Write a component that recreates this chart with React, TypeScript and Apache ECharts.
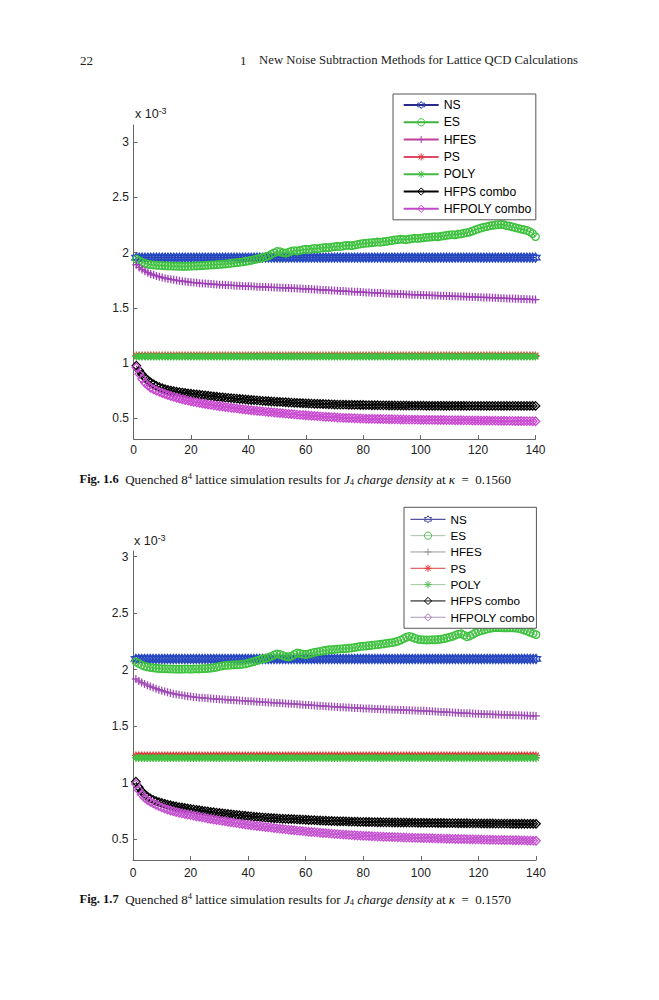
import React, { useEffect, useRef } from "react";
import * as echarts from "echarts";

// ---------- data ----------
const seriesNames = ["NS", "ES", "HFES", "PS", "POLY", "HFPS combo", "HFPOLY combo"];
const yTickValues = [0.5, 1, 1.5, 2, 2.5, 3];

// Fig. 1.6 (kappa = 0.1560), x = 1..140, values x 10^-3
const ns1 = [
  1.955, 1.955, 1.955, 1.955, 1.955, 1.955, 1.955, 1.955, 1.955, 1.955,
  1.955, 1.955, 1.955, 1.955, 1.955, 1.955, 1.955, 1.955, 1.955, 1.955,
  1.955, 1.955, 1.955, 1.955, 1.955, 1.955, 1.955, 1.955, 1.955, 1.955,
  1.955, 1.955, 1.955, 1.955, 1.955, 1.955, 1.955, 1.955, 1.955, 1.955,
  1.955, 1.955, 1.955, 1.955, 1.955, 1.955, 1.955, 1.955, 1.955, 1.955,
  1.955, 1.955, 1.955, 1.955, 1.955, 1.955, 1.955, 1.955, 1.955, 1.955,
  1.955, 1.955, 1.955, 1.955, 1.955, 1.955, 1.955, 1.955, 1.955, 1.955,
  1.955, 1.955, 1.955, 1.955, 1.955, 1.955, 1.955, 1.955, 1.955, 1.955,
  1.955, 1.955, 1.955, 1.955, 1.955, 1.955, 1.955, 1.955, 1.955, 1.955,
  1.955, 1.955, 1.955, 1.955, 1.955, 1.955, 1.955, 1.955, 1.955, 1.955,
  1.955, 1.955, 1.955, 1.955, 1.955, 1.955, 1.955, 1.955, 1.955, 1.955,
  1.955, 1.955, 1.955, 1.955, 1.955, 1.955, 1.955, 1.955, 1.955, 1.955,
  1.955, 1.955, 1.955, 1.955, 1.955, 1.955, 1.955, 1.955, 1.955, 1.955,
  1.955, 1.955, 1.955, 1.955, 1.955, 1.955, 1.955, 1.955, 1.955, 1.955,
];
const es1 = [
  1.940, 1.925, 1.912, 1.902, 1.895, 1.890, 1.888, 1.885, 1.884, 1.883,
  1.880, 1.879, 1.878, 1.877, 1.876, 1.876, 1.875, 1.875, 1.876, 1.877,
  1.878, 1.879, 1.881, 1.882, 1.884, 1.886, 1.888, 1.889, 1.891, 1.893,
  1.895, 1.897, 1.900, 1.903, 1.906, 1.909, 1.912, 1.916, 1.920, 1.925,
  1.930, 1.936, 1.942, 1.948, 1.955, 1.962, 1.970, 1.985, 1.998, 2.010,
  2.008, 2.000, 1.995, 2.003, 2.012, 2.018, 2.015, 2.020, 2.026, 2.030,
  2.028, 2.033, 2.038, 2.035, 2.040, 2.044, 2.047, 2.045, 2.050, 2.054,
  2.057, 2.055, 2.060, 2.064, 2.066, 2.063, 2.068, 2.073, 2.078, 2.082,
  2.085, 2.087, 2.090, 2.093, 2.096, 2.094, 2.098, 2.102, 2.106, 2.110,
  2.114, 2.118, 2.121, 2.120, 2.117, 2.122, 2.127, 2.130, 2.128, 2.131,
  2.135, 2.138, 2.140, 2.143, 2.145, 2.143, 2.148, 2.152, 2.156, 2.160,
  2.163, 2.161, 2.166, 2.170, 2.175, 2.180, 2.186, 2.195, 2.205, 2.215,
  2.223, 2.230, 2.236, 2.242, 2.247, 2.250, 2.253, 2.255, 2.252, 2.245,
  2.240, 2.233, 2.226, 2.220, 2.213, 2.207, 2.200, 2.190, 2.172, 2.145,
];
const hfes1 = [
  1.890, 1.866, 1.847, 1.832, 1.818, 1.806, 1.797, 1.789, 1.781, 1.774,
  1.768, 1.763, 1.758, 1.753, 1.749, 1.745, 1.741, 1.738, 1.734, 1.731,
  1.728, 1.726, 1.723, 1.721, 1.719, 1.717, 1.715, 1.713, 1.711, 1.709,
  1.708, 1.706, 1.705, 1.703, 1.702, 1.700, 1.699, 1.697, 1.696, 1.695,
  1.694, 1.692, 1.691, 1.690, 1.689, 1.688, 1.686, 1.685, 1.684, 1.683,
  1.682, 1.681, 1.680, 1.679, 1.677, 1.676, 1.675, 1.674, 1.672, 1.671,
  1.669, 1.668, 1.666, 1.665, 1.663, 1.662, 1.660, 1.659, 1.657, 1.656,
  1.654, 1.653, 1.651, 1.650, 1.648, 1.647, 1.645, 1.644, 1.642, 1.641,
  1.639, 1.638, 1.637, 1.635, 1.634, 1.633, 1.631, 1.630, 1.629, 1.627,
  1.626, 1.625, 1.624, 1.623, 1.621, 1.620, 1.619, 1.618, 1.617, 1.616,
  1.615, 1.614, 1.613, 1.612, 1.611, 1.610, 1.609, 1.608, 1.607, 1.606,
  1.605, 1.604, 1.603, 1.602, 1.601, 1.600, 1.599, 1.598, 1.597, 1.596,
  1.595, 1.594, 1.593, 1.592, 1.591, 1.590, 1.588, 1.587, 1.586, 1.585,
  1.584, 1.583, 1.582, 1.581, 1.580, 1.579, 1.577, 1.576, 1.575, 1.574,
];
const ps1 = [
  1.066, 1.066, 1.066, 1.066, 1.066, 1.066, 1.066, 1.066, 1.066, 1.066,
  1.066, 1.066, 1.066, 1.066, 1.066, 1.066, 1.066, 1.066, 1.066, 1.066,
  1.066, 1.066, 1.066, 1.066, 1.066, 1.066, 1.066, 1.066, 1.066, 1.066,
  1.066, 1.066, 1.066, 1.066, 1.066, 1.066, 1.066, 1.066, 1.066, 1.066,
  1.066, 1.066, 1.066, 1.066, 1.066, 1.066, 1.066, 1.066, 1.066, 1.066,
  1.066, 1.066, 1.066, 1.066, 1.066, 1.066, 1.066, 1.066, 1.066, 1.066,
  1.066, 1.066, 1.066, 1.066, 1.066, 1.066, 1.066, 1.066, 1.066, 1.066,
  1.066, 1.066, 1.066, 1.066, 1.066, 1.066, 1.066, 1.066, 1.066, 1.066,
  1.066, 1.066, 1.066, 1.066, 1.066, 1.066, 1.066, 1.066, 1.066, 1.066,
  1.066, 1.066, 1.066, 1.066, 1.066, 1.066, 1.066, 1.066, 1.066, 1.066,
  1.066, 1.066, 1.066, 1.066, 1.066, 1.066, 1.066, 1.066, 1.066, 1.066,
  1.066, 1.066, 1.066, 1.066, 1.066, 1.066, 1.066, 1.066, 1.066, 1.066,
  1.066, 1.066, 1.066, 1.066, 1.066, 1.066, 1.066, 1.066, 1.066, 1.066,
  1.066, 1.066, 1.066, 1.066, 1.066, 1.066, 1.066, 1.066, 1.066, 1.066,
];
const poly1 = [
  1.057, 1.057, 1.057, 1.057, 1.057, 1.057, 1.057, 1.057, 1.057, 1.057,
  1.057, 1.057, 1.057, 1.057, 1.057, 1.057, 1.057, 1.057, 1.057, 1.057,
  1.057, 1.057, 1.057, 1.057, 1.057, 1.057, 1.057, 1.057, 1.057, 1.057,
  1.057, 1.057, 1.057, 1.057, 1.057, 1.057, 1.057, 1.057, 1.057, 1.057,
  1.057, 1.057, 1.057, 1.057, 1.057, 1.057, 1.057, 1.057, 1.057, 1.057,
  1.057, 1.057, 1.057, 1.057, 1.057, 1.057, 1.057, 1.057, 1.057, 1.057,
  1.057, 1.057, 1.057, 1.057, 1.057, 1.057, 1.057, 1.057, 1.057, 1.057,
  1.057, 1.057, 1.057, 1.057, 1.057, 1.057, 1.057, 1.057, 1.057, 1.057,
  1.057, 1.057, 1.057, 1.057, 1.057, 1.057, 1.057, 1.057, 1.057, 1.057,
  1.057, 1.057, 1.057, 1.057, 1.057, 1.057, 1.057, 1.057, 1.057, 1.057,
  1.057, 1.057, 1.057, 1.057, 1.057, 1.057, 1.057, 1.057, 1.057, 1.057,
  1.057, 1.057, 1.057, 1.057, 1.057, 1.057, 1.057, 1.057, 1.057, 1.057,
  1.057, 1.057, 1.057, 1.057, 1.057, 1.057, 1.057, 1.057, 1.057, 1.057,
  1.057, 1.057, 1.057, 1.057, 1.057, 1.057, 1.057, 1.057, 1.057, 1.057,
];
const hfps1 = [
  0.975, 0.930, 0.895, 0.866, 0.842, 0.822, 0.806, 0.792, 0.780, 0.770,
  0.762, 0.755, 0.749, 0.744, 0.739, 0.735, 0.731, 0.727, 0.723, 0.720,
  0.717, 0.714, 0.711, 0.708, 0.705, 0.702, 0.699, 0.696, 0.693, 0.690,
  0.688, 0.685, 0.683, 0.680, 0.678, 0.676, 0.673, 0.671, 0.668, 0.666,
  0.664, 0.662, 0.660, 0.658, 0.656, 0.654, 0.652, 0.650, 0.649, 0.647,
  0.646, 0.644, 0.643, 0.641, 0.640, 0.638, 0.637, 0.636, 0.634, 0.633,
  0.632, 0.631, 0.630, 0.629, 0.628, 0.627, 0.626, 0.625, 0.624, 0.623,
  0.622, 0.622, 0.621, 0.621, 0.620, 0.620, 0.619, 0.619, 0.618, 0.618,
  0.617, 0.617, 0.616, 0.616, 0.616, 0.615, 0.615, 0.615, 0.614, 0.614,
  0.614, 0.613, 0.613, 0.613, 0.613, 0.612, 0.612, 0.612, 0.612, 0.612,
  0.612, 0.611, 0.611, 0.611, 0.611, 0.611, 0.611, 0.611, 0.611, 0.611,
  0.611, 0.611, 0.611, 0.611, 0.611, 0.610, 0.610, 0.610, 0.610, 0.610,
  0.610, 0.610, 0.610, 0.610, 0.610, 0.610, 0.610, 0.610, 0.610, 0.610,
  0.610, 0.610, 0.610, 0.610, 0.610, 0.610, 0.610, 0.610, 0.610, 0.610,
];
const hfpoly1 = [
  0.960, 0.900, 0.855, 0.820, 0.795, 0.775, 0.760, 0.748, 0.737, 0.727,
  0.718, 0.709, 0.700, 0.692, 0.684, 0.677, 0.670, 0.664, 0.658, 0.652,
  0.647, 0.642, 0.637, 0.632, 0.627, 0.623, 0.619, 0.615, 0.611, 0.607,
  0.604, 0.600, 0.597, 0.593, 0.590, 0.587, 0.583, 0.580, 0.577, 0.574,
  0.571, 0.568, 0.566, 0.563, 0.560, 0.558, 0.555, 0.553, 0.550, 0.548,
  0.545, 0.543, 0.540, 0.538, 0.536, 0.533, 0.531, 0.529, 0.527, 0.525,
  0.523, 0.521, 0.519, 0.517, 0.515, 0.513, 0.512, 0.510, 0.508, 0.507,
  0.505, 0.504, 0.502, 0.501, 0.500, 0.499, 0.498, 0.497, 0.496, 0.495,
  0.494, 0.493, 0.493, 0.492, 0.491, 0.491, 0.490, 0.490, 0.489, 0.489,
  0.488, 0.488, 0.487, 0.487, 0.486, 0.486, 0.485, 0.485, 0.485, 0.484,
  0.484, 0.484, 0.483, 0.483, 0.483, 0.482, 0.482, 0.482, 0.481, 0.481,
  0.481, 0.480, 0.480, 0.480, 0.479, 0.479, 0.479, 0.478, 0.478, 0.478,
  0.477, 0.477, 0.477, 0.476, 0.476, 0.476, 0.475, 0.475, 0.475, 0.474,
  0.474, 0.474, 0.473, 0.473, 0.473, 0.472, 0.472, 0.472, 0.471, 0.471,
];

// Fig. 1.7 (kappa = 0.1570)
const ns2 = [
  2.095, 2.095, 2.095, 2.095, 2.095, 2.095, 2.095, 2.095, 2.095, 2.095,
  2.095, 2.095, 2.095, 2.095, 2.095, 2.095, 2.095, 2.095, 2.095, 2.095,
  2.095, 2.095, 2.095, 2.095, 2.095, 2.095, 2.095, 2.095, 2.095, 2.095,
  2.095, 2.095, 2.095, 2.095, 2.095, 2.095, 2.095, 2.095, 2.095, 2.095,
  2.095, 2.095, 2.095, 2.095, 2.095, 2.095, 2.095, 2.095, 2.095, 2.095,
  2.095, 2.095, 2.095, 2.095, 2.095, 2.095, 2.095, 2.095, 2.095, 2.095,
  2.095, 2.095, 2.095, 2.095, 2.095, 2.095, 2.095, 2.095, 2.095, 2.095,
  2.095, 2.095, 2.095, 2.095, 2.095, 2.095, 2.095, 2.095, 2.095, 2.095,
  2.095, 2.095, 2.095, 2.095, 2.095, 2.095, 2.095, 2.095, 2.095, 2.095,
  2.095, 2.095, 2.095, 2.095, 2.095, 2.095, 2.095, 2.095, 2.095, 2.095,
  2.095, 2.095, 2.095, 2.095, 2.095, 2.095, 2.095, 2.095, 2.095, 2.095,
  2.095, 2.095, 2.095, 2.095, 2.095, 2.095, 2.095, 2.095, 2.095, 2.095,
  2.095, 2.095, 2.095, 2.095, 2.095, 2.095, 2.095, 2.095, 2.095, 2.095,
  2.095, 2.095, 2.095, 2.095, 2.095, 2.095, 2.095, 2.095, 2.095, 2.095,
];
const es2 = [
  2.070, 2.055, 2.042, 2.032, 2.025, 2.020, 2.016, 2.013, 2.011, 2.009,
  2.008, 2.007, 2.006, 2.006, 2.005, 2.005, 2.005, 2.006, 2.006, 2.005,
  2.006, 2.007, 2.006, 2.008, 2.010, 2.012, 2.014, 2.017, 2.022, 2.028,
  2.034, 2.038, 2.040, 2.042, 2.043, 2.044, 2.045, 2.048, 2.052, 2.058,
  2.065, 2.072, 2.080, 2.088, 2.096, 2.100, 2.108, 2.118, 2.130, 2.140,
  2.135, 2.126, 2.118, 2.114, 2.120, 2.135, 2.148, 2.145, 2.138, 2.134,
  2.140, 2.147, 2.153, 2.158, 2.162, 2.168, 2.172, 2.176, 2.178, 2.180,
  2.182, 2.184, 2.186, 2.188, 2.190, 2.192, 2.196, 2.202, 2.206, 2.208,
  2.210, 2.213, 2.216, 2.219, 2.222, 2.225, 2.229, 2.233, 2.236, 2.240,
  2.245, 2.252, 2.262, 2.275, 2.288, 2.295, 2.288, 2.277, 2.270, 2.266,
  2.264, 2.263, 2.264, 2.265, 2.265, 2.267, 2.270, 2.275, 2.281, 2.288,
  2.295, 2.305, 2.315, 2.318, 2.305, 2.292, 2.298, 2.312, 2.328, 2.338,
  2.345, 2.352, 2.360, 2.366, 2.370, 2.372, 2.372, 2.371, 2.370, 2.370,
  2.371, 2.370, 2.368, 2.364, 2.358, 2.350, 2.340, 2.330, 2.320, 2.310,
];
const hfes2 = [
  1.918, 1.900, 1.886, 1.874, 1.863, 1.852, 1.842, 1.832, 1.823, 1.815,
  1.807, 1.800, 1.794, 1.788, 1.783, 1.778, 1.774, 1.770, 1.766, 1.762,
  1.759, 1.756, 1.753, 1.751, 1.749, 1.747, 1.745, 1.743, 1.741, 1.739,
  1.737, 1.736, 1.734, 1.732, 1.731, 1.729, 1.727, 1.726, 1.724, 1.722,
  1.721, 1.719, 1.717, 1.716, 1.714, 1.712, 1.711, 1.709, 1.708, 1.706,
  1.705, 1.703, 1.701, 1.700, 1.698, 1.697, 1.695, 1.693, 1.691, 1.689,
  1.688, 1.686, 1.684, 1.682, 1.681, 1.679, 1.677, 1.675, 1.674, 1.672,
  1.671, 1.669, 1.668, 1.666, 1.665, 1.664, 1.662, 1.661, 1.659, 1.658,
  1.657, 1.656, 1.655, 1.653, 1.652, 1.651, 1.650, 1.649, 1.648, 1.647,
  1.646, 1.645, 1.644, 1.643, 1.642, 1.641, 1.640, 1.639, 1.638, 1.637,
  1.636, 1.634, 1.633, 1.632, 1.630, 1.629, 1.627, 1.626, 1.624, 1.623,
  1.622, 1.620, 1.619, 1.618, 1.616, 1.615, 1.614, 1.612, 1.611, 1.610,
  1.609, 1.608, 1.607, 1.606, 1.605, 1.604, 1.603, 1.602, 1.601, 1.600,
  1.599, 1.598, 1.597, 1.597, 1.596, 1.595, 1.594, 1.593, 1.592, 1.591,
];
const ps2 = [
  1.242, 1.242, 1.242, 1.242, 1.242, 1.242, 1.242, 1.242, 1.242, 1.242,
  1.242, 1.242, 1.242, 1.242, 1.242, 1.242, 1.242, 1.242, 1.242, 1.242,
  1.242, 1.242, 1.242, 1.242, 1.242, 1.242, 1.242, 1.242, 1.242, 1.242,
  1.242, 1.242, 1.242, 1.242, 1.242, 1.242, 1.242, 1.242, 1.242, 1.242,
  1.242, 1.242, 1.242, 1.242, 1.242, 1.242, 1.242, 1.242, 1.242, 1.242,
  1.242, 1.242, 1.242, 1.242, 1.242, 1.242, 1.242, 1.242, 1.242, 1.242,
  1.242, 1.242, 1.242, 1.242, 1.242, 1.242, 1.242, 1.242, 1.242, 1.242,
  1.242, 1.242, 1.242, 1.242, 1.242, 1.242, 1.242, 1.242, 1.242, 1.242,
  1.242, 1.242, 1.242, 1.242, 1.242, 1.242, 1.242, 1.242, 1.242, 1.242,
  1.242, 1.242, 1.242, 1.242, 1.242, 1.242, 1.242, 1.242, 1.242, 1.242,
  1.242, 1.242, 1.242, 1.242, 1.242, 1.242, 1.242, 1.242, 1.242, 1.242,
  1.242, 1.242, 1.242, 1.242, 1.242, 1.242, 1.242, 1.242, 1.242, 1.242,
  1.242, 1.242, 1.242, 1.242, 1.242, 1.242, 1.242, 1.242, 1.242, 1.242,
  1.242, 1.242, 1.242, 1.242, 1.242, 1.242, 1.242, 1.242, 1.242, 1.242,
];
const poly2 = [
  1.220, 1.220, 1.220, 1.220, 1.220, 1.220, 1.220, 1.220, 1.220, 1.220,
  1.220, 1.220, 1.220, 1.220, 1.220, 1.220, 1.220, 1.220, 1.220, 1.220,
  1.220, 1.220, 1.220, 1.220, 1.220, 1.220, 1.220, 1.220, 1.220, 1.220,
  1.220, 1.220, 1.220, 1.220, 1.220, 1.220, 1.220, 1.220, 1.220, 1.220,
  1.220, 1.220, 1.220, 1.220, 1.220, 1.220, 1.220, 1.220, 1.220, 1.220,
  1.220, 1.220, 1.220, 1.220, 1.220, 1.220, 1.220, 1.220, 1.220, 1.220,
  1.220, 1.220, 1.220, 1.220, 1.220, 1.220, 1.220, 1.220, 1.220, 1.220,
  1.220, 1.220, 1.220, 1.220, 1.220, 1.220, 1.220, 1.220, 1.220, 1.220,
  1.220, 1.220, 1.220, 1.220, 1.220, 1.220, 1.220, 1.220, 1.220, 1.220,
  1.220, 1.220, 1.220, 1.220, 1.220, 1.220, 1.220, 1.220, 1.220, 1.220,
  1.220, 1.220, 1.220, 1.220, 1.220, 1.220, 1.220, 1.220, 1.220, 1.220,
  1.220, 1.220, 1.220, 1.220, 1.220, 1.220, 1.220, 1.220, 1.220, 1.220,
  1.220, 1.220, 1.220, 1.220, 1.220, 1.220, 1.220, 1.220, 1.220, 1.220,
  1.220, 1.220, 1.220, 1.220, 1.220, 1.220, 1.220, 1.220, 1.220, 1.220,
];
const hfps2 = [
  1.010, 0.960, 0.925, 0.898, 0.878, 0.862, 0.849, 0.838, 0.829, 0.821,
  0.814, 0.807, 0.801, 0.795, 0.790, 0.785, 0.781, 0.777, 0.773, 0.769,
  0.765, 0.761, 0.757, 0.753, 0.749, 0.746, 0.742, 0.739, 0.736, 0.733,
  0.730, 0.727, 0.724, 0.721, 0.718, 0.716, 0.713, 0.710, 0.708, 0.705,
  0.703, 0.700, 0.698, 0.696, 0.694, 0.692, 0.690, 0.688, 0.686, 0.685,
  0.683, 0.682, 0.681, 0.680, 0.679, 0.678, 0.676, 0.675, 0.674, 0.673,
  0.671, 0.670, 0.669, 0.667, 0.666, 0.665, 0.664, 0.663, 0.662, 0.661,
  0.660, 0.659, 0.659, 0.658, 0.657, 0.656, 0.656, 0.655, 0.654, 0.654,
  0.653, 0.653, 0.652, 0.652, 0.651, 0.651, 0.650, 0.650, 0.650, 0.649,
  0.649, 0.649, 0.648, 0.648, 0.648, 0.647, 0.647, 0.647, 0.646, 0.646,
  0.646, 0.645, 0.645, 0.645, 0.645, 0.644, 0.644, 0.644, 0.643, 0.643,
  0.643, 0.643, 0.642, 0.642, 0.642, 0.642, 0.641, 0.641, 0.641, 0.641,
  0.640, 0.640, 0.640, 0.640, 0.640, 0.639, 0.639, 0.639, 0.639, 0.639,
  0.638, 0.638, 0.638, 0.638, 0.638, 0.638, 0.637, 0.637, 0.637, 0.637,
];
const hfpoly2 = [
  0.990, 0.935, 0.897, 0.868, 0.848, 0.832, 0.818, 0.805, 0.793, 0.782,
  0.772, 0.763, 0.755, 0.748, 0.741, 0.735, 0.729, 0.724, 0.719, 0.714,
  0.709, 0.704, 0.699, 0.694, 0.689, 0.684, 0.679, 0.675, 0.671, 0.667,
  0.663, 0.659, 0.655, 0.651, 0.647, 0.643, 0.639, 0.635, 0.631, 0.628,
  0.624, 0.621, 0.618, 0.615, 0.612, 0.609, 0.606, 0.603, 0.600, 0.597,
  0.594, 0.591, 0.588, 0.585, 0.582, 0.580, 0.577, 0.575, 0.572, 0.570,
  0.567, 0.565, 0.563, 0.561, 0.558, 0.556, 0.554, 0.552, 0.550, 0.548,
  0.546, 0.544, 0.542, 0.541, 0.539, 0.537, 0.536, 0.534, 0.533, 0.531,
  0.530, 0.529, 0.527, 0.526, 0.525, 0.524, 0.523, 0.522, 0.521, 0.520,
  0.519, 0.518, 0.517, 0.516, 0.515, 0.515, 0.514, 0.513, 0.512, 0.511,
  0.511, 0.510, 0.509, 0.509, 0.508, 0.507, 0.507, 0.506, 0.505, 0.505,
  0.504, 0.503, 0.503, 0.502, 0.502, 0.501, 0.500, 0.500, 0.499, 0.499,
  0.498, 0.497, 0.497, 0.496, 0.496, 0.495, 0.495, 0.494, 0.494, 0.493,
  0.493, 0.492, 0.492, 0.491, 0.490, 0.490, 0.489, 0.489, 0.488, 0.487,
];

const chart1Values = [ns1, es1, hfes1, ps1, poly1, hfps1, hfpoly1];
const chart2Values = [ns2, es2, hfes2, ps2, poly2, hfps2, hfpoly2];

// ---------- styles ----------
const SERIF = '"Liberation Serif", "Times New Roman", serif';
const SANS = '"Liberation Sans", Arial, Helvetica, sans-serif';

const HEX = "path://M0,-10L2.887,-5L8.66,-5L5.774,0L8.66,5L2.887,5L0,10L-2.887,5L-8.66,5L-5.774,0L-8.66,-5L-2.887,-5Z";
const PLUS = "path://M0,-10L0,10M-10,0L10,0";
const STAR = "path://M0,-10L0,10M-10,0L10,0M-7.07,-7.07L7.07,7.07M-7.07,7.07L7.07,-7.07";

const markerShapes = [HEX, "circle", PLUS, STAR, STAR, "diamond", "diamond"];
const markerSizes = [9, 7.5, 8, 8, 8, 8.5, 8.5];
const markerColors1 = ["#2446c0", "#3ec23e", "#a040b8", "#e03a3a", "#44c044", "#000000", "#c848d0"];
const lineColors1 = ["#2a2a88", "#3cb43c", "#c0409a", "#e04a6a", "#44b844", "#000000", "#c048c8"];
const markerColors2 = ["#2446c0", "#3ec23e", "#a04cb8", "#e03a3a", "#44c044", "#000000", "#c450d0"];
const lineColors2 = ["#2a2a88", "#a6c6a6", "#9a9a9a", "#e04040", "#a2c6a2", "#000000", "#a898b8"];
const legendMarker2 = ["#4a4ab0", "#46be46", "#9a9a9a", "#e03a3a", "#4cc04c", "#000000", "#b070c8"];

function makeSeries(vals: number[], idx: number, grid: number) {
  const mc = grid === 0 ? markerColors1 : markerColors2;
  const lc = grid === 0 ? lineColors1 : lineColors2;
  return {
    type: "line",
    name: grid === 0 ? seriesNames[idx] : seriesNames[idx] + "#2",
    xAxisIndex: grid,
    yAxisIndex: grid,
    data: vals.map((v, i) => [i + 1, v]),
    symbol: markerShapes[idx],
    symbolSize: markerSizes[idx],
    showSymbol: true,
    showAllSymbol: true,
    itemStyle: { color: "rgba(0,0,0,0)", borderColor: mc[idx], borderWidth: 1.3 },
    lineStyle: { color: lc[idx], width: 1 },
    emphasis: { disabled: true },
    silent: true,
    clip: false,
  };
}

function makeAxes(grid: number, yMin: number, yMax: number, labelMargin: number) {
  const x = {
    gridIndex: grid,
    type: "value",
    min: 0,
    max: 140,
    interval: 20,
    axisLine: { show: true, lineStyle: { color: "#666", width: 1 } },
    axisTick: { show: true, inside: true, length: 4, lineStyle: { color: "#666" } },
    axisLabel: { color: "#222", fontSize: 12, fontFamily: SANS, margin: labelMargin },
    splitLine: { show: false },
  };
  const y = {
    gridIndex: grid,
    type: "value",
    min: yMin,
    max: yMax,
    axisLine: { show: true, lineStyle: { color: "#666", width: 1 } },
    axisTick: { show: true, inside: true, length: 4, lineStyle: { color: "#666" }, customValues: yTickValues },
    axisLabel: { color: "#222", fontSize: 12, fontFamily: SANS, margin: 4.5, customValues: yTickValues },
    splitLine: { show: false },
  };
  return { x, y };
}

function caption(figNo: string, kappa: string, y: number) {
  return {
    type: "text",
    x: 79.5,
    y,
    style: {
      text:
        "{b|Fig. " + figNo + "}{n|  Quenched 8}{sup|4}{n| lattice simulation results for }{i|J}{sub|4}{i| charge density}{n| at }{i|κ}{n|  =  " + kappa + "}",
      fontFamily: SERIF,
      fontSize: 13,
      fill: "#111",
      verticalAlign: "middle",
      rich: {
        b: { fontFamily: SERIF, fontSize: 12.5, fontWeight: "bold", lineHeight: 15, fill: "#111" },
        n: { fontFamily: SERIF, fontSize: 13, lineHeight: 15, fill: "#111" },
        i: { fontFamily: SERIF, fontSize: 13, fontStyle: "italic", lineHeight: 15, fill: "#111" },
        sup: { fontFamily: SERIF, fontSize: 8.5, lineHeight: 8, verticalAlign: "top", fill: "#111" },
        sub: { fontFamily: SERIF, fontSize: 8.5, lineHeight: 8, verticalAlign: "bottom", fill: "#111" },
      },
    },
  };
}

function exponentLabel(x: number, y: number) {
  return {
    type: "text",
    x,
    y,
    style: {
      text: "{n|x 10}{s|-3}",
      fontFamily: SANS,
      fontSize: 12,
      fill: "#222",
      verticalAlign: "middle",
      rich: {
        n: { fontFamily: SANS, fontSize: 12.5, lineHeight: 16, fill: "#222" },
        s: { fontFamily: SANS, fontSize: 9, lineHeight: 9, verticalAlign: "top", fill: "#222" },
      },
    },
  };
}

export default function App() {
  const ref = useRef<HTMLDivElement>(null);

  useEffect(() => {
    if (!ref.current) return;
    const chart = echarts.init(ref.current, undefined, { renderer: "svg" });
    const a1 = makeAxes(0, 0.31, 3.157, 5);
    const a2 = makeAxes(1, 0.317, 3.05, 6.5);

    const series = [
      ...chart1Values.map((v, i) => makeSeries(v, i, 0)),
      ...chart2Values.map((v, i) => makeSeries(v, i, 1)),
    ];

    const option: any = {
      animation: false,
      backgroundColor: "#ffffff",
      tooltip: { show: false },
      grid: [
        { left: 133.5, top: 125, width: 402, height: 314 },
        { left: 133, top: 551, width: 403, height: 309 },
      ],
      xAxis: [a1.x, a2.x],
      yAxis: [a1.y, a2.y],
      legend: [
        {
          left: 393,
          top: 94,
          orient: "vertical",
          padding: [4, 4.3, 4, 9.7],
          itemWidth: 35,
          itemHeight: 9,
          itemGap: 3.3,
          backgroundColor: "#fff",
          borderColor: "#555",
          borderWidth: 1,
          borderRadius: 0,
          selectedMode: false,
          itemStyle: { borderWidth: 1 },
          textStyle: { fontSize: 12.2, lineHeight: 14, color: "#000", fontFamily: SANS },
          data: seriesNames.map((n) => ({ name: n })),
        },
        {
          left: 404,
          top: 507.3,
          orient: "vertical",
          padding: [5.5, 1.7, 4.5, 6],
          itemWidth: 35,
          itemHeight: 9,
          itemGap: 3.33,
          backgroundColor: "#fff",
          borderColor: "#555",
          borderWidth: 1,
          borderRadius: 0,
          selectedMode: false,
          itemStyle: { borderWidth: 1 },
          textStyle: { fontSize: 11.7, lineHeight: 13, color: "#000", fontFamily: SANS },
          formatter: (name: string) => name.replace("#2", ""),
          data: seriesNames.map((n, i) => ({
            name: n + "#2",
            itemStyle: { color: "rgba(0,0,0,0)", borderColor: legendMarker2[i], borderWidth: 1 },
            lineStyle: { color: lineColors2[i], width: 1 },
          })),
        },
      ],
      series,
      graphic: [
        { type: "text", x: 80, y: 60, style: { text: "22", fontFamily: SERIF, fontSize: 13, fill: "#222", verticalAlign: "middle" } },
        { type: "text", x: 240, y: 60, style: { text: "1", fontFamily: SERIF, fontSize: 13, fill: "#222", verticalAlign: "middle" } },
        {
          type: "text",
          x: 578,
          y: 60,
          style: {
            text: "New Noise Subtraction Methods for Lattice QCD Calculations",
            fontFamily: SERIF,
            fontSize: 12.7,
            fill: "#222",
            align: "right",
            verticalAlign: "middle",
          },
        },
        exponentLabel(135, 114),
        exponentLabel(134, 541),
        caption("1.6", "0.1560", 479),
        caption("1.7", "0.1570", 899),
      ],
    };
    chart.setOption(option);
    return () => chart.dispose();
  }, []);

  return (
    <div style={{ position: "absolute", left: 0, top: 0, width: 659, height: 1000, background: "#fff" }}>
      <div ref={ref} style={{ width: 659, height: 1000 }} />
    </div>
  );
}
